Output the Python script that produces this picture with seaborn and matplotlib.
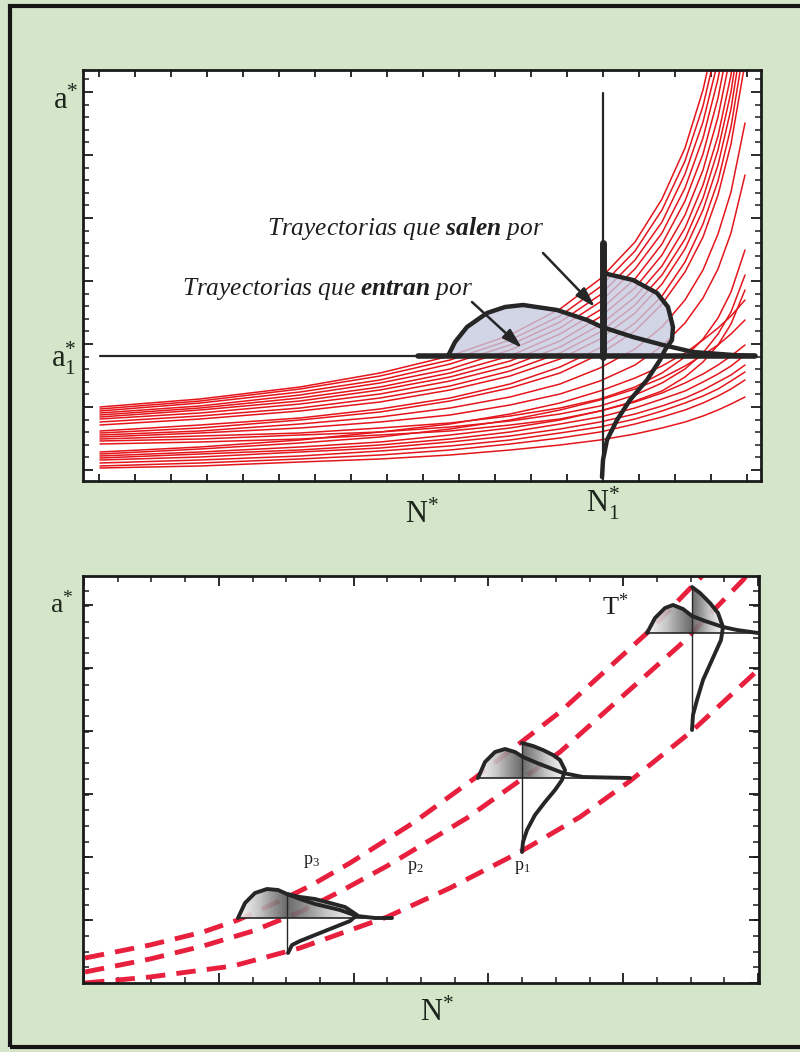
import numpy as np
import pandas as pd
import matplotlib
matplotlib.use("Agg")
import matplotlib.pyplot as plt
import seaborn as sns
from matplotlib.patches import Polygon, Rectangle

# ---------------- top panel (N*, a*) ----------------
traj_n = [17, 117, 217, 297, 367, 427, 477, 517, 552, 579, 602, 620, 635, 648, 662]
traj_a = [
    [74, 82, 94, 108, 125, 146, 172, 202, 239, 282, 333, 391, 458, 540, 672],
    [72, 80, 92, 105, 121, 141, 165, 194, 230, 271, 320, 375, 439, 518, 644],
    [70, 78, 89, 101, 117, 136, 159, 186, 221, 259, 307, 359, 420, 495, 615],
    [68, 75, 86, 98, 112, 131, 153, 179, 212, 248, 293, 343, 402, 473, 587],
    [66, 73, 83, 94, 108, 125, 147, 171, 202, 237, 280, 327, 383, 450, 559],
    [64, 71, 80, 91, 104, 120, 140, 164, 193, 226, 266, 311, 364, 428, 531],
    [62, 68, 77, 87, 100, 115, 134, 156, 184, 215, 253, 296, 345, 406, 502],
    [59, 65, 73, 83, 95, 110, 128, 149, 176, 206, 242, 283, 331, 389, 482],
    [56, 62, 70, 79, 91, 105, 122, 142, 168, 197, 232, 271, 316, 372, 461],
    [50, 56, 63, 72, 83, 97, 114, 133, 158, 185, 219, 257, 300, 354, 440],
    [48, 53, 61, 69, 80, 93, 108, 127, 150, 177, 209, 244, 286, 337, 418],
    [46, 50, 57, 64, 73, 84, 97, 113, 132, 154, 181, 211, 247, 289, 358],
    [44, 48, 53, 59, 66, 76, 87, 100, 116, 135, 158, 183, 212, 248, 306],
    [42, 45, 48, 53, 58, 65, 73, 82, 94, 108, 124, 142, 163, 189, 231],
    [40, 42, 46, 49, 54, 60, 67, 75, 86, 98, 112, 128, 147, 169, 206],
    [37, 39, 42, 46, 50, 56, 62, 70, 80, 90, 104, 119, 136, 157, 191],
    [29, 34, 41, 49, 57, 67, 78, 90, 103, 115, 128, 141, 153, 165, 181],
    [27, 32, 38, 44, 52, 61, 71, 81, 92, 103, 115, 126, 136, 147, 161],
    [25, 29, 34, 39, 46, 53, 61, 70, 79, 88, 98, 107, 116, 125, 136],
    [23, 27, 31, 36, 42, 49, 57, 64, 73, 82, 90, 99, 107, 115, 126],
    [21, 24, 29, 33, 39, 45, 52, 59, 67, 75, 83, 91, 99, 106, 116],
    [18, 21, 25, 30, 35, 41, 48, 54, 62, 70, 78, 85, 92, 100, 109],
    [15, 18, 22, 26, 31, 37, 43, 49, 57, 64, 71, 78, 85, 92, 101],
    [13, 15, 19, 22, 26, 31, 36, 41, 47, 53, 59, 65, 71, 77, 84],
]

a1_star = 125
n1_star = 520
a1_line_n = [17, 335, 672]          # start, start of thick part, end
n1_line_a = [3, 124, 238, 388]      # bottom, thick part, top

in_n = [365, 372, 384, 404, 422, 440, 474, 504, 519, 550, 580, 610, 650, 672]
in_a = [125, 139, 154, 168, 174, 176, 171, 161, 154, 144, 136, 129, 126, 125]
out_n = [520, 550, 574, 585, 590, 589, 582, 577, 564, 547, 534, 524, 520, 519]
out_a = [208, 201, 188, 174, 154, 141, 131, 121, 101, 81, 61, 41, 21, 4]

arrow_salen = [(460, 228), (512, 174)]
arrow_entran = [(389, 179), (439, 133)]

# ---------------- bottom panel ----------------
p3_n = [2, 67, 120, 155, 190, 227, 267, 330, 392, 477, 564, 620, 636]
p3_a = [25, 38, 51, 63, 79, 97, 120, 160, 205, 271, 350, 408, 425]
p2_n = [2, 67, 120, 170, 217, 260, 304, 384, 477, 597, 660, 672]
p2_a = [11, 24, 37, 52, 71, 93, 117, 165, 231, 338, 403, 418]
p1_n = [2, 67, 150, 217, 304, 367, 437, 497, 547, 609, 675]
p1_a = [0, 6, 17, 35, 66, 95, 131, 166, 202, 252, 313]

t_in_n = [564, 572, 582, 590, 600, 609, 622, 640, 654, 675]
t_in_a = [350, 365, 375, 378, 374, 367, 362, 356, 353, 350]
t_out_n = [609, 617, 627, 635, 640, 638, 629, 620, 614, 610, 609]
t_out_a = [396, 390, 380, 370, 356, 343, 323, 303, 283, 268, 253]

m_in_n = [395, 402, 412, 422, 432, 440, 454, 467, 480, 500, 547]
m_in_a = [205, 221, 231, 234, 231, 226, 220, 215, 210, 206, 205]
m_out_n = [439, 450, 460, 470, 477, 482, 479, 472, 462, 452, 444, 440, 439]
m_out_a = [240, 237, 233, 228, 223, 213, 203, 193, 181, 168, 153, 141, 131]

b_in_n = [155, 162, 172, 184, 195, 204, 217, 232, 257, 274, 292, 309]
b_in_a = [65, 80, 90, 94, 93, 89, 84, 79, 73, 67, 65, 65]
b_out_n = [204, 217, 232, 247, 262, 274, 267, 252, 232, 217, 209, 205]
b_out_a = [89, 86, 84, 80, 76, 68, 62, 56, 48, 42, 38, 30]

ink = "#262626"
red = "#e4161c"
dash_red = "#e8203e"
green_bg = "#d5e5c9"

sns.set_theme(style="white")
plt.rcParams["font.family"] = ["Liberation Serif", "DejaVu Serif"]
plt.rcParams["mathtext.fontset"] = "custom"
plt.rcParams["mathtext.rm"] = "Liberation Serif"
plt.rcParams["mathtext.it"] = "Liberation Serif:italic"
plt.rcParams["mathtext.bf"] = "Liberation Serif:italic:bold"


def lobe_polys(i_n, i_a, o_n, o_a):
    level = i_a[0]
    stem = o_n[0]
    left = [(n, a) for n, a in zip(i_n, i_a) if n < stem]
    left += [(stem, np.interp(stem, i_n, i_a)), (stem, level)]
    right = [(stem, level)]
    k = 0
    while o_a[k] >= level:
        right.append((o_n[k], o_a[k]))
        k += 1
    t = (level - o_a[k - 1]) / (o_a[k] - o_a[k - 1])
    right.append((o_n[k - 1] + t * (o_n[k] - o_n[k - 1]), level))
    return np.array(left), np.array(right)


def shade(ax, poly, stem):
    x0, x1 = poly[:, 0].min(), poly[:, 0].max()
    y0, y1 = poly[:, 1].min(), poly[:, 1].max()
    gx = np.linspace(x0, x1, 120)
    span = max(abs(x0 - stem), abs(x1 - stem))
    img = np.tile(1 - np.abs(gx - stem) / span, (2, 1))
    im = ax.imshow(img, extent=[x0, x1, y0, y1], origin="lower", cmap="Greys",
                   vmin=-0.15, vmax=1.45, aspect="auto", interpolation="bilinear",
                   alpha=0.9, zorder=3)
    patch = Polygon(poly, closed=True, fc="none", ec="none", transform=ax.transData)
    ax.add_patch(patch)
    im.set_clip_path(patch)


fig = plt.figure(figsize=(8, 10.52), dpi=100, facecolor=green_bg)
ax1 = fig.add_axes([83 / 800, 571 / 1052, 678 / 800, 411 / 1052])
ax2 = fig.add_axes([83 / 800, 69 / 1052, 676 / 800, 407 / 1052])

# ---- top panel ----
traj_df = pd.DataFrame(
    [(i, n, a) for i, row in enumerate(traj_a) for n, a in zip(traj_n, row)],
    columns=["curve", "N", "a"])
sns.lineplot(data=traj_df, x="N", y="a", units="curve", estimator=None, sort=False,
             color=red, lw=1.1, ax=ax1, legend=False, zorder=1)

left, right = lobe_polys(in_n, in_a, out_n, out_a)
for poly in (left, right):
    ax1.add_patch(Polygon(poly, closed=True, fc="#c5cae0", ec="none", alpha=0.78, zorder=2))

ax1.plot([a1_line_n[0], a1_line_n[2]], [a1_star, a1_star], color=ink, lw=1.6, zorder=4)
ax1.plot([a1_line_n[1], a1_line_n[2]], [a1_star, a1_star], color=ink, lw=4, zorder=4)
ax1.plot([n1_star, n1_star], [n1_line_a[0], n1_line_a[3]], color=ink, lw=1.6, zorder=4)
ax1.plot([n1_star, n1_star], [n1_line_a[1], n1_line_a[2]], color=ink, lw=5, zorder=4)
ax1.plot(in_n, in_a, color=ink, lw=3.2, zorder=5, solid_capstyle="round")
ax1.plot(out_n, out_a, color=ink, lw=3.2, zorder=5, solid_capstyle="round")

for (start, end) in (arrow_salen, arrow_entran):
    ax1.annotate("", xy=end, xytext=start, zorder=6,
                 arrowprops=dict(arrowstyle="-|>,head_length=1.0,head_width=0.3",
                                 color=ink, lw=1.8, shrinkA=0, shrinkB=0))

ax1.text(184, 253, r"$\mathit{Trayectorias\ que\ }\mathbf{salen}\mathit{\ por}$",
         fontsize=18.3, ha="left", va="center", color="#1e1e1e")
ax1.text(99, 192, r"$\mathit{Trayectorias\ que\ }\mathbf{entran}\mathit{\ por}$",
         fontsize=18.3, ha="left", va="center", color="#1e1e1e")

lab = dict(color="#1c261c", clip_on=False, ha="center", va="center")
ax1.text(-17, 380, r"$\mathrm{a}^{*}$", fontsize=22, **lab)
ax1.text(-19, 123, r"$\mathrm{a}_{1}^{*}$", fontsize=22, **lab)
ax1.text(339, -34, r"$\mathrm{N}^{*}$", fontsize=22, **lab)
ax1.text(520, -22, r"$\mathrm{N}_{1}^{*}$", fontsize=22, **lab)

ax1.set_xlim(0, 678)
ax1.set_ylim(0, 411)
ax1.set_xticks(16 + 36 * np.arange(19))
ax1.set_yticks(11 + 63 * np.arange(7))
ax1.set_yticks(11 + 12.6 * np.arange(32), minor=True)

# ---- bottom panel ----
dash_df = pd.DataFrame(
    [(name, n, a) for name, ns, as_ in (("p3", p3_n, p3_a), ("p2", p2_n, p2_a), ("p1", p1_n, p1_a))
     for n, a in zip(ns, as_)],
    columns=["path", "N", "a"])
sns.lineplot(data=dash_df, x="N", y="a", units="path", estimator=None, sort=False,
             color=dash_red, lw=3.5, ax=ax2, legend=False, zorder=1)
for line in ax2.lines:
    line.set_linestyle((0, (4.0, 2.3)))

for i_n, i_a, o_n, o_a in ((t_in_n, t_in_a, t_out_n, t_out_a),
                           (m_in_n, m_in_a, m_out_n, m_out_a),
                           (b_in_n, b_in_a, b_out_n, b_out_a)):
    left, right = lobe_polys(i_n, i_a, o_n, o_a)
    shade(ax2, left, o_n[0])
    shade(ax2, right, o_n[0])
    ax2.plot([i_n[0], i_n[-1]], [i_a[0], i_a[0]], color=ink, lw=1.2, zorder=4)
    ax2.plot([o_n[0], o_n[0]], [o_a[-1], o_a[0]], color=ink, lw=1.0, zorder=4)
    ax2.plot(i_n, i_a, color=ink, lw=2.8, zorder=5, solid_capstyle="round")
    ax2.plot(o_n, o_a, color=ink, lw=2.8, zorder=5, solid_capstyle="round")

ax2.text(532, 376, r"$\mathrm{T}^{*}$", fontsize=19, color="#1e1e1e", ha="center", va="center")
ax2.text(229, 121, r"$\mathrm{p}_{3}$", fontsize=13, color="#1e1e1e", ha="center", va="center")
ax2.text(332, 116, r"$\mathrm{p}_{2}$", fontsize=13, color="#1e1e1e", ha="center", va="center")
ax2.text(439, 116, r"$\mathrm{p}_{1}$", fontsize=13, color="#1e1e1e", ha="center", va="center")
ax2.text(-21, 378, r"$\mathrm{a}^{*}$", fontsize=20, **lab)
ax2.text(354, -30, r"$\mathrm{N}^{*}$", fontsize=22, **lab)

ax2.set_xlim(0, 676)
ax2.set_ylim(0, 407)
ax2.set_xticks(1 + 134.8 * np.arange(6))
ax2.set_xticks(1 + 33.7 * np.arange(21), minor=True)
ax2.set_yticks(63 * np.arange(7))
ax2.set_yticks(15.7 * np.arange(26), minor=True)

for ax in (ax1, ax2):
    ax.set_xlabel("")
    ax.set_ylabel("")
    ax.set_facecolor("white")
    for sp in ax.spines.values():
        sp.set_color("#1a1a1a")
        sp.set_linewidth(2)
    ax.tick_params(which="both", direction="in", top=True, bottom=True, left=True, right=True,
                   labelbottom=False, labelleft=False, color="#1a1a1a")
    ax.tick_params(which="major", length=7, width=1.3)
    ax.tick_params(which="minor", length=4, width=1.1)
ax1.tick_params(axis="x", which="major", length=5)

fig.patches.append(Rectangle((10 / 800, 5 / 1052), 1.0, 1041 / 1052, transform=fig.transFigure,
                             fill=False, ec="#151515", lw=3))

fig.savefig("out.png", dpi=100, facecolor=fig.get_facecolor())
